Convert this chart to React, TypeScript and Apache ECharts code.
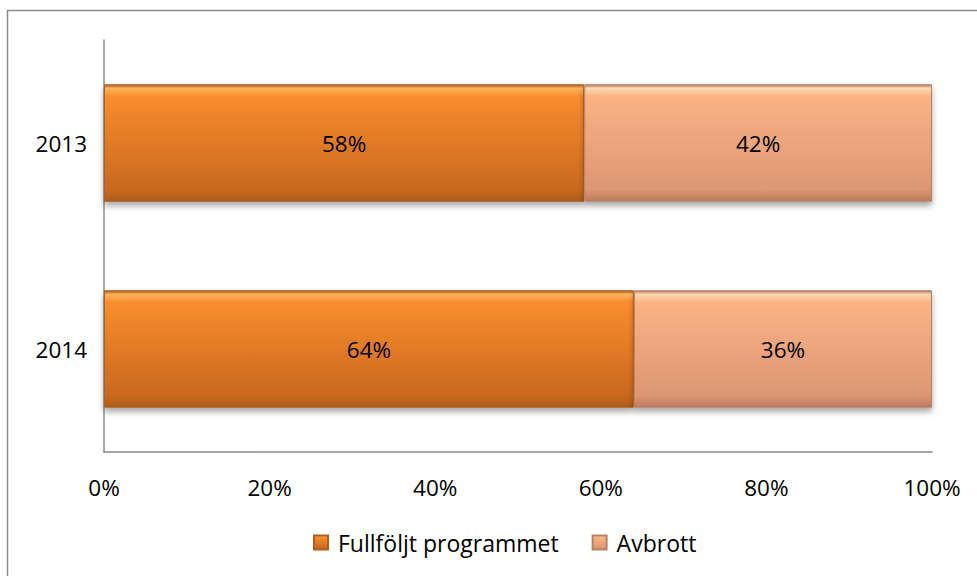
import React, { useEffect, useRef } from "react";
import * as echarts from "echarts";

const categories = ["2013", "2014"];
const completed = [58, 64];
const dropout = [42, 36];
const seriesNames = ["Fullföljt programmet", "Avbrott"];
const xTicks = [0, 20, 40, 60, 80, 100];

const FONT = "Open Sans";

function grad(top: string, hi: string, mid: string, bottom: string, edge: string) {
  return new echarts.graphic.LinearGradient(0, 0, 0, 1, [
    { offset: 0, color: edge },
    { offset: 0.03, color: hi },
    { offset: 0.1, color: top },
    { offset: 0.9, color: bottom },
    { offset: 0.96, color: mid },
    { offset: 1, color: edge },
  ]);
}

export default function App() {
  const ref = useRef<HTMLDivElement>(null);
  useEffect(() => {
    if (!ref.current) return;
    const chart = echarts.init(ref.current, undefined, { renderer: "svg" });
    const orange = grad("#F98D2E", "#FDB45E", "#B8621E", "#C9681F", "#A85A1C");
    const light = grad("#FBB385", "#FDD8B0", "#C98566", "#DC9673", "#B57D62");
    const legOrange = grad("#F98D2E", "#FDB45E", "#B8621E", "#C9681F", "#A85A1C");
    const legLight = grad("#FBB385", "#FDD8B0", "#C98566", "#DC9673", "#B57D62");
    chart.setOption({
      animation: false,
      textStyle: { fontFamily: FONT },
      graphic: [
        {
          type: "rect",
          shape: { x: 7.5, y: 10.5, width: 980, height: 580 },
          style: { fill: "none", stroke: "#8c8c8c", lineWidth: 1.5 },
          silent: true,
        },
      ],
      grid: { left: 104, right: 45, top: 40, bottom: 124, containLabel: false },
      legend: {
        bottom: 17,
        left: 308,
        itemWidth: 14,
        itemHeight: 14,
        itemGap: 33,
        icon: "rect",
        textStyle: { fontSize: 23, color: "#000", fontFamily: FONT, padding: [0, 0, 0, 5] },
        data: [
          { name: seriesNames[0], itemStyle: { color: legOrange } },
          { name: seriesNames[1], itemStyle: { color: legLight } },
        ],
      },
      xAxis: {
        type: "value",
        min: 0,
        max: 100,
        interval: 20,
        axisLine: { show: true, lineStyle: { color: "#8c8c8c", width: 1.5 } },
        axisTick: { show: false },
        splitLine: { show: false },
        axisLabel: {
          fontSize: 22.5,
          color: "#000",
          margin: 24,
          fontFamily: FONT,
          formatter: (v: number) => (xTicks.includes(v) ? v + "%" : ""),
        },
      },
      yAxis: {
        type: "category",
        data: categories,
        inverse: true,
        axisLine: { show: true, lineStyle: { color: "#8c8c8c", width: 1.5 } },
        axisTick: { show: false },
        axisLabel: { fontSize: 22.5, color: "#000", margin: 17, fontFamily: FONT },
      },
      series: [
        {
          name: seriesNames[0],
          type: "bar",
          stack: "total",
          barWidth: "57%",
          data: completed,
          itemStyle: {
            color: orange,
            shadowColor: "rgba(0,0,0,0.35)",
            shadowBlur: 6,
            shadowOffsetY: 4,
            borderColor: "#B0601E",
            borderWidth: 1,
          },
          label: {
            show: true,
            position: "inside",
            formatter: "{c}%",
            fontSize: 22.5,
            color: "#000",
            fontFamily: FONT,
          },
        },
        {
          name: seriesNames[1],
          type: "bar",
          stack: "total",
          barWidth: "57%",
          data: dropout,
          itemStyle: {
            color: light,
            shadowColor: "rgba(0,0,0,0.35)",
            shadowBlur: 6,
            shadowOffsetY: 4,
            borderColor: "#B98266",
            borderWidth: 1,
          },
          label: {
            show: true,
            position: "inside",
            formatter: "{c}%",
            fontSize: 22.5,
            color: "#000",
            fontFamily: FONT,
          },
        },
      ],
    });
    return () => chart.dispose();
  }, []);
  return (
    <div
      ref={ref}
      style={{ position: "fixed", left: 0, top: 0, width: 977, height: 576, background: "#fff" }}
    />
  );
}
